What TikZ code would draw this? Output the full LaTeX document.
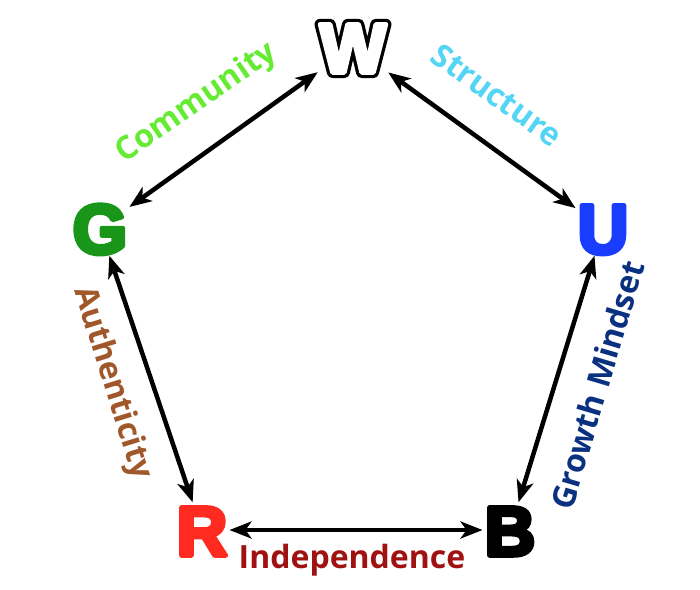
\documentclass[tikz,border=0pt]{standalone}
\usepackage{fontspec}
\setmainfont{Open Sans}
\usetikzlibrary{arrows.meta}
\newfontfamily\heavyfont{Liberation Sans Bold}
\definecolor{gcol}{RGB}{25,150,25}
\definecolor{ucol}{RGB}{26,60,255}
\definecolor{rcol}{RGB}{255,42,32}
\definecolor{commcol}{RGB}{100,235,50}
\definecolor{strcol}{RGB}{85,213,245}
\definecolor{authcol}{RGB}{160,88,42}
\definecolor{growcol}{RGB}{10,48,128}
\definecolor{indcol}{RGB}{160,18,18}
\newcommand{\heavytext}[2]{\special{pdf:literal 2 Tr #1 w 1 j}#2\special{pdf:literal 0 Tr 1 w 0 j}}
\tikzset{
  letter/.style={font=\heavyfont\fontsize{70}{70}\selectfont, inner sep=2pt, text height=51pt, text depth=0pt},
  lbl/.style={font=\bfseries\fontsize{32}{32}\selectfont, inner sep=0pt},
  link/.style={line width=4.5pt, {Stealth[length=22pt,width=17pt,inset=6pt]}-{Stealth[length=22pt,width=17pt,inset=6pt]}, shorten <=0pt, shorten >=0pt}
}
\begin{document}
\begin{tikzpicture}[x=1pt,y=-1pt]
\useasboundingbox (0,0) rectangle (700,589);
\node[letter, text=black] (W) at (353,47) {\heavytext{11}{W}};
\node[letter, text=white] (Wi) at (353,47) {\heavytext{4.5}{W}};
\node[letter, text=gcol] (G) at (100,228) {\heavytext{4.5}{G}};
\node[letter, text=ucol] (U) at (603,228) {\heavytext{4.5}{U}};
\node[letter, text=rcol] (R) at (202,530) {\heavytext{4.5}{R}};
\node[letter, text=black] (B) at (510,530) {\heavytext{4.5}{B}};
\draw[link] (W) -- (G);
\draw[link] (W) -- (U);
\draw[link] (G) -- (R);
\draw[link] (U) -- (B);
\draw[link] (R) -- (B);
\node[lbl, text=commcol, rotate=34.7] (comm) at (197,103) {Community};
\node[lbl, text=strcol, rotate=-35.7] (str) at (497,95) {Structure};
\node[lbl, text=authcol, rotate=-72.7] (auth) at (112,383) {Authenticity};
\node[lbl, text=growcol, rotate=73.5] (grow) at (597,385) {Growth Mindset};
\node[lbl, text=indcol] (ind) at (352,560) {Independence};
\end{tikzpicture}
\end{document}
